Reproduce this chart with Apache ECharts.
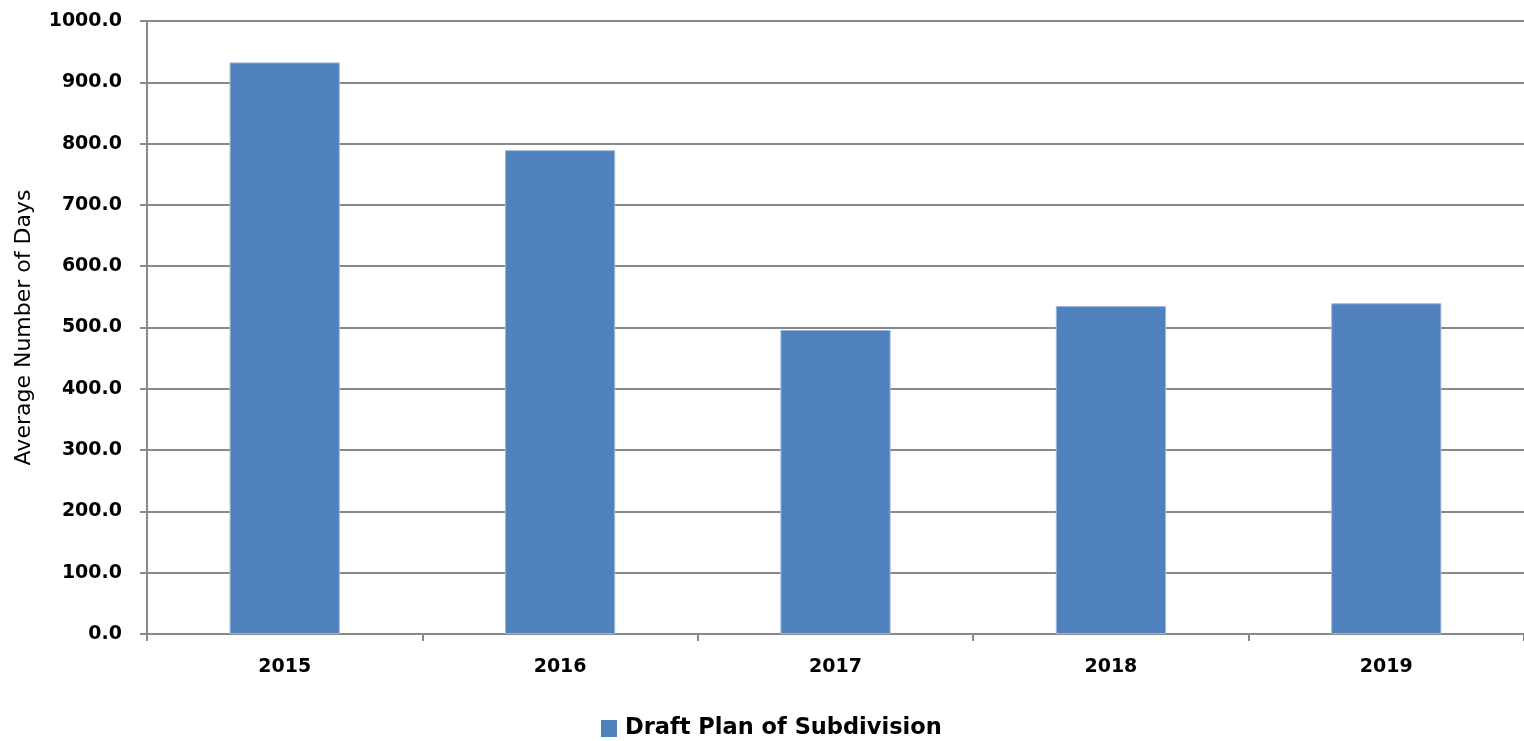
<!DOCTYPE html>
<html>
<head>
<meta charset="utf-8">
<script src="https://cdn.jsdelivr.net/npm/echarts@6/dist/echarts.min.js"></script>
<style>
html,body{margin:0;padding:0;background:#fff;}
#chart{width:1524px;height:741px;}
</style>
</head>
<body>
<div id="chart"></div>
<script>
const categories = ['2015', '2016', '2017', '2018', '2019'];
const seriesName = 'Draft Plan of Subdivision';
const values = [932.5, 789.3, 496.0, 535.0, 539.5];
const yAxisTitle = 'Average Number of Days';

const chart = echarts.init(document.getElementById('chart'));
chart.setOption({
  animation: false,
  backgroundColor: '#ffffff',
  grid: { left: 147, top: 21, right: 0, height: 613 },
  legend: {
    data: [seriesName],
    left: 601,
    top: 717,
    padding: 0,
    icon: 'rect',
    itemWidth: 16,
    itemHeight: 17,
    itemStyle: { borderWidth: 0, color: '#4F81BD' },
    textStyle: { fontFamily: 'DejaVu Sans', fontWeight: 'bold', fontSize: 22.5, color: '#000', padding: [0, 0, 0, 3] }
  },
  xAxis: {
    type: 'category',
    data: categories,
    boundaryGap: true,
    axisLine: { lineStyle: { color: '#898989', width: 2 } },
    axisTick: { show: true, alignWithLabel: false, length: 7, lineStyle: { color: '#898989', width: 2 } },
    axisLabel: { margin: 24, fontFamily: 'DejaVu Sans', fontWeight: 'bold', fontSize: 19, color: '#000' }
  },
  yAxis: {
    type: 'value',
    min: 0,
    max: 1000,
    interval: 100,
    name: yAxisTitle,
    nameLocation: 'middle',
    nameGap: 112,
    nameTextStyle: { fontFamily: 'DejaVu Sans', fontSize: 22, color: '#000' },
    axisLine: { show: true, lineStyle: { color: '#898989', width: 2 } },
    axisTick: { show: true, length: 7, lineStyle: { color: '#898989', width: 2 } },
    splitLine: { show: true, lineStyle: { color: '#898989', width: 2 } },
    axisLabel: {
      margin: 25,
      formatter: v => v.toFixed(1),
      fontFamily: 'DejaVu Sans', fontWeight: 'bold', fontSize: 19, color: '#000'
    }
  },
  series: [{
    name: seriesName,
    type: 'bar',
    data: values,
    barWidth: '40%',
    itemStyle: { color: '#4F81BD', borderColor: '#9db7dc', borderWidth: 1 }
  }]
});
</script>
</body>
</html>
